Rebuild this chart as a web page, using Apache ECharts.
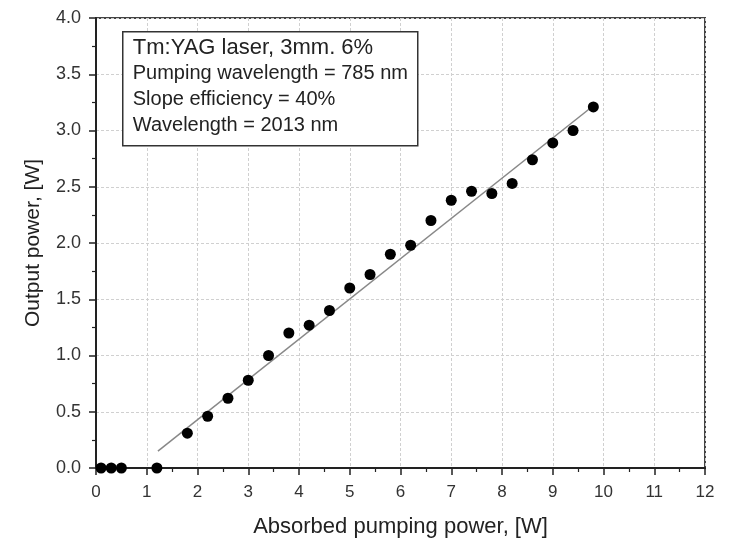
<!DOCTYPE html>
<html>
<head>
<meta charset="utf-8">
<script src="https://cdn.jsdelivr.net/npm/echarts@6/dist/echarts.min.js"></script>
<style>html,body{margin:0;padding:0;background:#fff}#c{width:733px;height:543px}</style>
</head>
<body>
<div id="c"></div>
<script>
const pumpPower = [0.1, 0.3, 0.5, 1.2, 1.8, 2.2, 2.6, 3.0, 3.4, 3.8, 4.2, 4.6, 5.0, 5.4, 5.8, 6.2, 6.6, 7.0, 7.4, 7.8, 8.2, 8.6, 9.0, 9.4, 9.8];
const outputPower = [0, 0, 0, 0, 0.31, 0.46, 0.62, 0.78, 1.0, 1.2, 1.27, 1.4, 1.6, 1.72, 1.9, 1.98, 2.2, 2.38, 2.46, 2.44, 2.53, 2.74, 2.89, 3.0, 3.21];
const fitX = [1.22, 9.8];
const fitY = [0.15, 3.22];
const infoLines = ['Tm:YAG laser, 3mm. 6%', 'Pumping wavelength = 785 nm', 'Slope efficiency = 40%', 'Wavelength = 2013 nm'];

const font = 'Liberation Sans, Arial, Helvetica, sans-serif';
const chart = echarts.init(document.getElementById('c'));
chart.setOption({
  backgroundColor: '#fff',
  animation: false,
  grid: { left: 96, right: 28, top: 18, bottom: 75, show: true, borderColor: '#444', borderWidth: 2, containLabel: false },
  xAxis: {
    type: 'value', min: 0, max: 12, interval: 1,
    name: 'Absorbed pumping power, [W]', nameLocation: 'middle', nameGap: 48,
    nameTextStyle: { fontFamily: font, fontSize: 22, color: '#222' },
    axisLine: { lineStyle: { color: '#222', width: 2 } },
    axisTick: { inside: false, length: 7, lineStyle: { color: '#222', width: 1.5 } },
    minorTick: { show: true, splitNumber: 2, length: 4, lineStyle: { color: '#222', width: 1.2 } },
    axisLabel: { fontFamily: font, fontSize: 17, color: '#333', margin: 16 },
    splitLine: { show: true, lineStyle: { color: '#d0d0d0', type: [3, 2], width: 1 } }
  },
  yAxis: {
    type: 'value', min: 0, max: 4, interval: 0.5,
    name: 'Output power, [W]', nameLocation: 'middle', nameGap: 52,
    nameTextStyle: { fontFamily: font, fontSize: 21, color: '#222' },
    axisLine: { show: true, lineStyle: { color: '#222', width: 2 } },
    axisTick: { show: true, inside: false, length: 7, lineStyle: { color: '#222', width: 1.5 } },
    minorTick: { show: true, splitNumber: 2, length: 4, lineStyle: { color: '#222', width: 1.2 } },
    axisLabel: { fontFamily: font, fontSize: 18, color: '#333', margin: 15, formatter: v => v.toFixed(1) },
    splitLine: { show: true, lineStyle: { color: '#d0d0d0', type: [3, 2], width: 1 } }
  },
  series: [
    {
      type: 'line', data: fitX.map((x, i) => [x, fitY[i]]),
      showSymbol: false, lineStyle: { color: '#888', width: 1.5 }, z: 2
    },
    {
      type: 'scatter', data: pumpPower.map((x, i) => [x, outputPower[i]]),
      symbolSize: 11, itemStyle: { color: '#000', opacity: 1 }, z: 3
    }
  ],
  graphic: [
    {
      type: 'group', left: 122, top: 31, z: 100,
      children: [
        { type: 'rect', z: 100, shape: { x: 0, y: 0, width: 295, height: 114 }, style: { fill: '#fff', stroke: '#333', lineWidth: 1.5 } },
        ...infoLines.map((t, i) => ({
          type: 'text', z: 101, x: 10, y: 16 + i * 26,
          style: { text: t, fontFamily: font, fontSize: i === 0 ? 22 : 20, fill: '#222', textVerticalAlign: 'middle' }
        }))
      ]
    }
  ]
});
</script>
</body>
</html>
